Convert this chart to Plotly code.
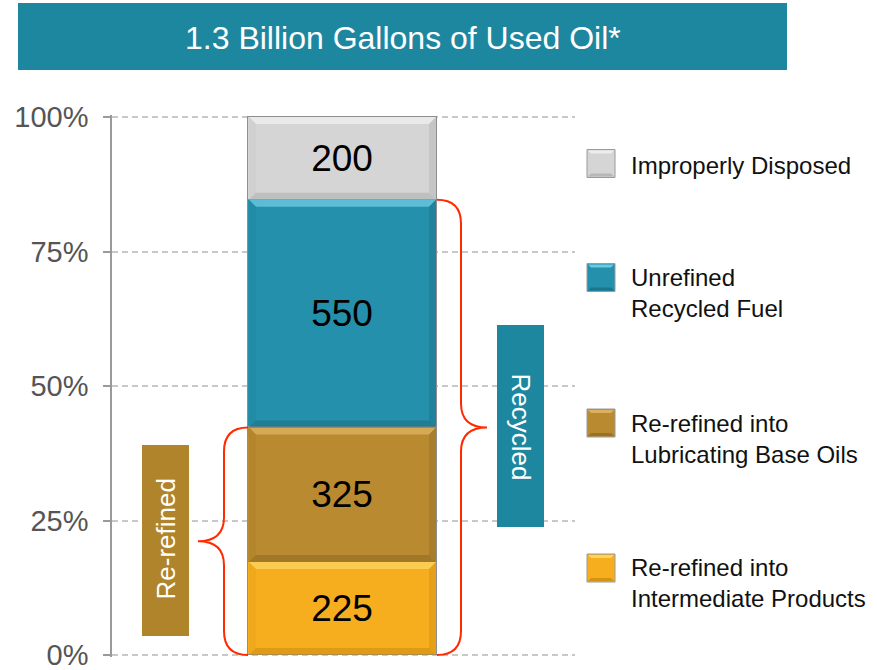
import plotly.graph_objects as go

# ---------------- data ----------------
categories = ["Re-refined into\nIntermediate Products",
              "Re-refined into\nLubricating Base Oils",
              "Unrefined\nRecycled Fuel",
              "Improperly Disposed"]
values = [225, 325, 550, 200]          # million gallons
bar_colors = ["#F6AE1E", "#B98A2F", "#2490AB", "#D5D5D5"]
bevel_light = ["#FDD35C", "#DDB060", "#6CC8E0", "#EDEDED"]
bevel_dark = ["#C7870E", "#8A6624", "#1A6A7E", "#A9A9A9"]
tick_vals_pct = [0, 25, 50, 75, 100]
tick_text = ["0%", "25%", "50%", "75%", "100%"]
title_text = "1.3 Billion Gallons of Used Oil*"

total = sum(values)
FONT = "Liberation Sans, Arial, Helvetica, sans-serif"

# ---------------- layout geometry (pixels) ----------------
W, H = 877, 670
PL, PR = 112, 575          # plot area x in px
PT, PB = 117, 655          # y pixel of 100% and 0%
EXT = 2                    # extra px of plot area above/below so end gridlines show
px_per_unit = (PB - PT) / total
ext_u = EXT / px_per_unit
AT, AB = PT - EXT, PB + EXT


def PX(px):
    return (px - PL) / (PR - PL)


def PY(py):
    return (AB - py) / (AB - AT)


BAR_X0, BAR_X1 = 248, 437
bar_center = (BAR_X0 + BAR_X1) / 2
bar_width = BAR_X1 - BAR_X0

fig = go.Figure()

for cat, v, c in zip(categories, values, bar_colors):
    fig.add_trace(go.Bar(
        x=[bar_center], y=[v], width=[bar_width], name=cat.replace("\n", " "),
        marker=dict(color=c, line=dict(color="#8E8E8E", width=1)),
        text=[str(v)], textposition="inside", insidetextanchor="middle",
        textangle=0, textfont=dict(size=37, color="black", family=FONT),
        hoverinfo="skip", showlegend=False,
    ))

shapes = []

# bevels on bar segments
bev = 7  # px
bev_u = bev / px_per_unit
cum = 0
for v, lc, dc in zip(values, bevel_light, bevel_dark):
    y0, y1 = cum, cum + v
    cum = y1
    x0, x1 = BAR_X0 + 1, BAR_X1 - 1
    shapes.append(dict(type="path", xref="x", yref="y", layer="above",
                       path=f"M {x0},{y1} L {x1},{y1} L {x1-bev},{y1-bev_u} L {x0+bev},{y1-bev_u} Z",
                       fillcolor=lc, line=dict(width=0), opacity=0.8))
    shapes.append(dict(type="path", xref="x", yref="y", layer="above",
                       path=f"M {x0},{y0} L {x1},{y0} L {x1-bev},{y0+bev_u} L {x0+bev},{y0+bev_u} Z",
                       fillcolor=dc, line=dict(width=0), opacity=0.5))
    shapes.append(dict(type="path", xref="x", yref="y", layer="above",
                       path=f"M {x1},{y0} L {x1},{y1} L {x1-bev},{y1-bev_u} L {x1-bev},{y0+bev_u} Z",
                       fillcolor=dc, line=dict(width=0), opacity=0.35))
    shapes.append(dict(type="path", xref="x", yref="y", layer="above",
                       path=f"M {x0},{y0} L {x0},{y1} L {x0+bev},{y1-bev_u} L {x0+bev},{y0+bev_u} Z",
                       fillcolor=dc, line=dict(width=0), opacity=0.12))

# title box
shapes.append(dict(type="rect", xref="paper", yref="paper",
                   x0=PX(18), x1=PX(787), y0=PY(70), y1=PY(3),
                   fillcolor="#1E87A0", line=dict(width=0), layer="below"))


def path_paper(points_cmds):
    out = []
    for cmd, pts in points_cmds:
        coords = " ".join(f"{PX(x):.5f},{PY(y):.5f}" for x, y in pts)
        out.append(f"{cmd} {coords}")
    return " ".join(out)


# braces
top_rec = PB - (values[0] + values[1] + values[2]) * px_per_unit
mid_rr = PB - (values[0] + values[1]) * px_per_unit
tip_r = (top_rec + PB) / 2
xv, xt, r = 461, 487, 24
right_brace = path_paper([
    ("M", [(BAR_X1, top_rec)]),
    ("Q", [(xv, top_rec), (xv, top_rec + r)]),
    ("L", [(xv, tip_r - r)]),
    ("Q", [(xv, tip_r), (xt, tip_r)]),
    ("Q", [(xv, tip_r), (xv, tip_r + r)]),
    ("L", [(xv, PB - r)]),
    ("Q", [(xv, PB), (BAR_X1, PB)]),
])
shapes.append(dict(type="path", xref="paper", yref="paper", path=right_brace,
                   line=dict(color="#FF2A00", width=2)))

tip_l = (mid_rr + PB) / 2
xv, xt = 224, 198
left_brace = path_paper([
    ("M", [(BAR_X0, mid_rr)]),
    ("Q", [(xv, mid_rr), (xv, mid_rr + r)]),
    ("L", [(xv, tip_l - r)]),
    ("Q", [(xv, tip_l), (xt, tip_l)]),
    ("Q", [(xv, tip_l), (xv, tip_l + r)]),
    ("L", [(xv, PB - r)]),
    ("Q", [(xv, PB), (BAR_X0, PB)]),
])
shapes.append(dict(type="path", xref="paper", yref="paper", path=left_brace,
                   line=dict(color="#FF2A00", width=2)))

# group label boxes
shapes.append(dict(type="rect", xref="paper", yref="paper",
                   x0=PX(497), x1=PX(544), y0=PY(527), y1=PY(325),
                   fillcolor="#1E87A0", line=dict(width=0)))
shapes.append(dict(type="rect", xref="paper", yref="paper",
                   x0=PX(142), x1=PX(189), y0=PY(636), y1=PY(445),
                   fillcolor="#B0842A", line=dict(width=0)))

annotations = [
    dict(text=title_text, xref="paper", yref="paper", x=PX(403), y=PY(38),
         showarrow=False, font=dict(size=32, color="white", family=FONT),
         xanchor="center", yanchor="middle"),
    dict(text="Recycled", xref="paper", yref="paper", x=PX(520.5), y=PY(427),
         showarrow=False, textangle=90, font=dict(size=26, color="white", family=FONT),
         xanchor="center", yanchor="middle"),
    dict(text="Re-refined", xref="paper", yref="paper", x=PX(165.5), y=PY(539),
         showarrow=False, textangle=-90, font=dict(size=26, color="white", family=FONT),
         xanchor="center", yanchor="middle"),
]

# custom legend (top to bottom: reversed stacking order)
leg_sq_y = [568, 423, 277.5, 163.5]
leg_txt_y = [583, 439, 292.5, 165]
sq = 28
for cat, c, lc, dc, sy, ty in zip(categories, bar_colors, bevel_light, bevel_dark, leg_sq_y, leg_txt_y):
    x0, x1 = 587, 587 + sq
    y0, y1 = sy - sq / 2, sy + sq / 2
    shapes.append(dict(type="rect", xref="paper", yref="paper",
                       x0=PX(x0), x1=PX(x1), y0=PY(y1), y1=PY(y0),
                       fillcolor=c, line=dict(color="#9A9A9A", width=1)))
    b = 4
    shapes.append(dict(type="path", xref="paper", yref="paper",
                       path=path_paper([("M", [(x0 + 1, y0 + 1)]), ("L", [(x1 - 1, y0 + 1)]),
                                        ("L", [(x1 - b, y0 + b)]), ("L", [(x0 + b, y0 + b)])]) + " Z",
                       fillcolor=lc, line=dict(width=0)))
    shapes.append(dict(type="path", xref="paper", yref="paper",
                       path=path_paper([("M", [(x0 + 1, y1 - 1)]), ("L", [(x1 - 1, y1 - 1)]),
                                        ("L", [(x1 - b, y1 - b)]), ("L", [(x0 + b, y1 - b)])]) + " Z",
                       fillcolor=dc, line=dict(width=0), opacity=0.7))
    annotations.append(dict(text=cat.replace("\n", "<br>"), xref="paper", yref="paper",
                            x=PX(629), y=PY(ty), showarrow=False, align="left",
                            xanchor="left", yanchor="middle",
                            font=dict(size=24, color="#111111", family=FONT)))

fig.update_layout(
    width=W, height=H,
    margin=dict(l=PL, r=W - PR, t=AT, b=H - AB, pad=0, autoexpand=False),
    paper_bgcolor="white", plot_bgcolor="white",
    barmode="stack", bargap=0,
    showlegend=False,
    xaxis=dict(visible=False, range=[PL, PR], fixedrange=True, automargin=False),
    yaxis=dict(range=[-ext_u, total + ext_u], automargin=False,
               tickvals=[p / 100 * total for p in tick_vals_pct], ticktext=tick_text,
               showline=True, linecolor="#9A9A9A", linewidth=1.5,
               ticks="outside", ticklen=7, tickcolor="#9A9A9A", tickwidth=1.5,
               ticklabelstandoff=9, ticklabeloverflow="allow",
               tickfont=dict(size=29, color="#555555", family=FONT),
               showgrid=True, gridcolor="#C8C8C8", gridwidth=1.5, griddash="6px,4px",
               zeroline=False, fixedrange=True),
    shapes=shapes,
    annotations=annotations,
    font=dict(family=FONT),
)

fig.write_html("out.html",
               config={"displayModeBar": False},
               post_script="document.body.style.margin='0';document.body.style.padding='0';")
